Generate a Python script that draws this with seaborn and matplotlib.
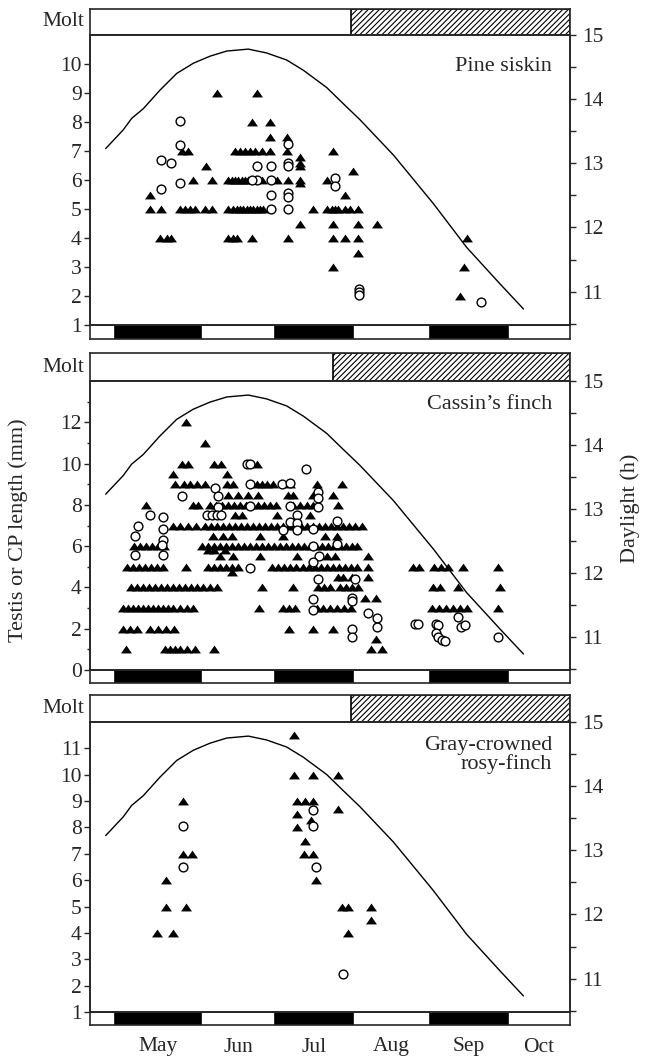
import matplotlib
matplotlib.use("Agg")
import matplotlib.pyplot as plt
import seaborn as sns
import pandas as pd
from matplotlib.ticker import FixedLocator, NullFormatter

sns.set_style("ticks")
plt.rcParams["font.family"] = ["Liberation Serif", "DejaVu Serif"]
plt.rcParams["hatch.linewidth"] = 0.8

# ---------------- data (x = day of year) ----------------
month_names = ["May", "Jun", "Jul", "Aug", "Sep", "Oct"]
month_edges = [121, 154.5, 183.3, 213.6, 243.6, 274, 298]
x_range = [111.3, 298]

daylight_day = [117.4, 124.2, 127.5, 132, 138.5, 145, 151.5, 158, 164.5, 172.9, 180,
                187.8, 194.3, 203.4, 209.8, 216.3, 229.3, 244.9, 257.8, 270.8, 279.9]
daylight_hours = [13.23, 13.52, 13.70, 13.85, 14.14, 14.40, 14.56, 14.67, 14.75, 14.78, 14.72,
                  14.61, 14.45, 14.18, 13.93, 13.68, 13.13, 12.37, 11.69, 11.12, 10.73]

# Pine siskin
ps_tri_mm = [9, 8, 7.5, 7, 6.8, 6.6, 6.5, 6.3, 6, 5.9, 5.5, 5, 4.5, 4, 3.5, 3, 2]
ps_tri_days = [
    [160.6, 176.1],
    [174.2, 181.3],
    [181.3, 187.8],
    [146.9, 149.5, 167.7, 169.6, 171.6, 173.5, 175.5, 178.1, 181.3, 187.8, 205.9],
    [193], [193], [156.4, 193], [213.7],
    [151.5, 158.6, 165.1, 166.4, 167.7, 169, 170.3, 171.6, 172.9, 178.1, 183.9, 188.4, 193, 203.5],
    [193],
    [134.6, 210.5],
    [134.6, 138.8, 146.3, 148.2, 150.2, 152.1, 156, 158.6, 165.1, 167, 168.3, 169.6, 170.9,
     172.2, 173.5, 174.8, 176.1, 177.4, 178.7, 198.2, 203.6, 205.3, 206.6, 207.9, 210.5, 212.4, 215.6],
    [193, 205.9, 215.6, 222.8],
    [138.5, 141.1, 143, 165.1, 167, 168.3, 174.2, 188.4, 205.9, 210.5, 215.6, 257.8],
    [215.6],
    [205.9, 256.8],
    [255.2],
]
ps_circ_day = [146.5, 146.5, 146.5, 138.8, 138.8, 143, 176.3, 176.3, 174.2, 181.6, 181.6, 181.6,
               181.6, 188.4, 188.4, 188.4, 188.4, 188.4, 188.4, 206.6, 206.6, 216, 216, 216, 263.4]
ps_circ_mm = [8.05, 7.2, 5.9, 6.7, 5.7, 6.6, 6.5, 6.0, 6.0, 6.5, 6.0, 5.5,
              5.0, 7.25, 6.6, 6.5, 5.55, 5.4, 5.0, 6.08, 5.78, 2.25, 2.15, 2.05, 1.8]

# Cassin's finch
cf_tri_mm = [1, 1.5, 2, 3, 3.5, 4, 4.5, 4.75, 5, 5.5, 5.8, 6, 6.5, 7, 7.5, 8, 8.5, 9, 9.5, 10, 11, 12]
cf_tri_days = [
    [125.3, 140.5, 142.4, 144.4, 146.3, 149, 152.1, 159.5, 220.6, 224.9],
    [222.5],
    [124.1, 126.8, 129.6, 134.6, 137.7, 140.8, 144, 188.7, 198, 205.8],
    [124.1, 126.1, 128, 130, 131.9, 133.8, 135.8, 137.7, 139.7, 141.6, 143.6, 146.3, 149, 151.3,
     177, 186.4, 188.7, 191, 199.6, 202, 204.6, 207.4, 210.1, 212.8,
     244.3, 247, 249.7, 252.4, 255.1, 257.9, 270],
    [218.3, 222.5],
    [127.2, 129.6, 131.9, 134.2, 136.6, 138.9, 141.3, 143.6, 145.9, 148.3, 150.6, 152.9, 155.2,
     158, 160.7, 178.2, 190.2, 199.9, 202.2, 204.6, 208.4, 210.8, 213.1, 215.5,
     244.7, 247.4, 254.4, 270.8],
    [207.7, 209.7, 213.2, 219.4],
    [166.4],
    [125.7, 128, 130.3, 132.7, 135, 137.3, 139.7, 148.6, 157.2, 159.5, 161.8, 164.2, 166.5, 168.9,
     182.1, 184.4, 186.7, 189.1, 191.4, 194.1, 196.5, 198.8, 201.2, 203.5, 205.8, 208.1, 210.5,
     212.8, 215.1, 219.4, 236.9, 239.3, 245.1, 247.8, 250.5, 256.4, 270],
    [161.8, 166.9, 177.4, 191.8, 203.5, 206.6, 219.4],
    [157.2, 159.5, 163.8],
    [128.4, 130.8, 133.1, 135.4, 137.7, 140.1, 154.8, 157.2, 159.5, 161.8, 164.2, 166.5, 168.9,
     171.2, 173.5, 175.9, 178.2, 180.5, 182.9, 185.2, 187.5, 189.9, 192.2, 194.5, 196.9, 199.2,
     201.5, 203.9, 206.2, 208.5, 210.8, 213.2, 215.1],
    [159.1, 163, 166.5, 177.4, 186.4, 202.7, 207.4],
    [143.6, 146.3, 149.4, 152.5, 156, 158.3, 160.7, 163, 165.3, 167.7, 170, 172.3, 174.7, 177,
     179.4, 181.7, 184, 186.4, 188.7, 191, 193.4, 195.7, 198, 200.4, 202.7, 205, 207.4, 209.7,
     212, 214.4, 217.1],
    [167.7, 170.4, 184, 196.9],
    [133.1, 151.3, 153.2, 158, 160.3, 162.6, 165, 167.3, 169.6, 172, 174.3, 176.6, 179, 181.3,
     183.6, 190.2, 192.9, 195.6, 198, 207.7],
    [165, 168.8, 172.7, 176.6, 188.3, 190.2, 198, 205.8],
    [144.3, 147.8, 150.2, 152.9, 156, 164.6, 166.9, 176.2, 178.2, 180.1, 182.5, 189.1, 199.6, 209.3],
    [143.6, 164.6],
    [147, 149.4, 159.5, 162.2, 176.2],
    [156],
    [148.6],
]
cf_circ_day = [130, 128.8, 128.8, 134.6, 139.7, 139.7, 139.7, 139.3, 139.7, 147, 159.9, 161, 161,
               156.8, 158.7, 160.7, 162.2, 172.3, 173.5, 173.5, 173.5, 173.5, 186, 189.1, 189.1,
               186.4, 189.1, 191.8, 191.8, 191.8, 195.3, 198, 198, 200.4, 198, 200, 200, 200, 200,
               198, 198, 207.4, 207.4, 213.2, 213.2, 213.2, 213.2, 214.4, 219.4, 222.9, 222.9,
               237.7, 238.9, 245.9, 246.6, 245.9, 246.6, 248.2, 249.4, 254.4, 255.6, 257.2, 270]
cf_circ_mm = [7.0, 6.5, 5.55, 7.5, 7.4, 6.85, 6.3, 6.05, 5.55, 8.45, 8.8, 8.45, 7.9,
              7.5, 7.5, 7.5, 7.5, 10.0, 10.0, 9.0, 7.95, 4.95, 9.0, 9.05, 7.95,
              6.8, 7.15, 7.5, 7.1, 6.8, 9.75, 6.85, 6.0, 5.5, 5.25, 8.6, 8.35, 7.9, 4.4,
              3.45, 2.9, 7.2, 6.1, 3.5, 3.35, 2.0, 1.6, 4.4, 2.75, 2.5, 2.1,
              2.25, 2.25, 2.25, 2.2, 1.8, 1.6, 1.45, 1.4, 2.55, 2.1, 2.2, 1.6]

# Gray-crowned rosy-finch
gr_tri_day = [137.5, 143.7, 140.8, 148.6, 140.8, 147.3, 150.8, 147.6, 190.6, 190.6, 197.9, 207.9,
              191.7, 194.9, 198.1, 191.7, 197.1, 191.7, 194.9, 194.5, 198.1, 199.2, 207.9,
              209.2, 211.8, 220.5, 220.5, 211.5]
gr_tri_mm = [4, 4, 5, 5, 6, 7, 7, 9, 11.5, 10, 10, 10,
             9, 9, 9, 8.5, 8.3, 8, 7.5, 7, 7, 6, 8.7,
             5, 5, 5, 4.5, 4]
gr_circ_day = [147.6, 147.6, 198.1, 198.1, 199.2, 209.8]
gr_circ_mm = [8.05, 6.5, 8.65, 8.05, 6.5, 2.45]

molt_start = [212.8, 205.8, 212.8]
species = ["Pine siskin", "Cassin\u2019s finch", "Gray-crowned\nrosy-finch"]


def flatten(mm_rows, day_rows):
    xs, ys = [], []
    for m, ds in zip(mm_rows, day_rows):
        xs.extend(ds)
        ys.extend([m] * len(ds))
    return xs, ys


ps_tri_day, ps_tri_mm_flat = flatten(ps_tri_mm, ps_tri_days)
cf_tri_day, cf_tri_mm_flat = flatten(cf_tri_mm, cf_tri_days)

panels = [
    dict(tri=(ps_tri_day, ps_tri_mm_flat), circ=(ps_circ_day, ps_circ_mm),
         ylim=(1, 11), major=list(range(1, 11)), minor=[],
         rows=(9, 35, 325, 339), text_y=0.89),
    dict(tri=(cf_tri_day, cf_tri_mm_flat), circ=(cf_circ_day, cf_circ_mm),
         ylim=(0, 14), major=list(range(0, 13, 2)), minor=list(range(1, 14, 2)),
         rows=(353, 381, 670, 683), text_y=0.917),
    dict(tri=(gr_tri_day, gr_tri_mm), circ=(gr_circ_day, gr_circ_mm),
         ylim=(1, 12), major=list(range(1, 12)), minor=[],
         rows=(695, 722, 1012, 1025), text_y=0.885),
]

W, H = 647, 1060
fig = plt.figure(figsize=(W / 100, H / 100), dpi=100)
L, R = 90, 570

tri_marker = [(-1, -0.72), (1, -0.72), (0, 0.72)]
FS = 15.5
LW = 1.2


def frac_rect(top, bottom):
    return [L / W, 1 - bottom / H, (R - L) / W, (bottom - top) / H]


for i, p in enumerate(panels):
    t_m, t_main, b_main, b_bar = p["rows"]
    # molt bar
    axm = fig.add_axes(frac_rect(t_m, t_main))
    axm.set_xlim(*x_range)
    axm.set_ylim(0, 1)
    axm.axvspan(molt_start[i], x_range[1], facecolor="white", edgecolor="black",
                hatch="//////", linewidth=LW)
    axm.set_xticks([])
    axm.set_yticks([])
    for s in axm.spines.values():
        s.set_linewidth(LW)
    axm.text(-0.012, 0.5, "Molt", transform=axm.transAxes, ha="right", va="center", fontsize=FS)

    # month bar
    axb = fig.add_axes(frac_rect(b_main, b_bar))
    axb.set_xlim(*x_range)
    axb.set_ylim(0, 1)
    for k in range(0, len(month_edges) - 1, 2):
        axb.axvspan(month_edges[k], month_edges[k + 1], facecolor="black", edgecolor="black",
                    linewidth=LW)
    axb.set_yticks([])
    mids = [(month_edges[k] + month_edges[k + 1]) / 2 for k in range(len(month_edges) - 1)]
    axb.set_xticks(mids)
    if i == len(panels) - 1:
        axb.set_xticklabels(month_names, fontsize=FS)
        axb.tick_params(axis="x", length=0, pad=9)
    else:
        axb.set_xticklabels([])
        axb.tick_params(axis="x", length=0)
    for s in axb.spines.values():
        s.set_linewidth(LW)

    # main scatter
    ax = fig.add_axes(frac_rect(t_main, b_main))
    tx, ty = p["tri"]
    cx, cy = p["circ"]
    sns.scatterplot(x=tx, y=ty, ax=ax, marker=tri_marker, color="black", s=62,
                    linewidth=0, legend=False, zorder=3)
    sns.scatterplot(x=cx, y=cy, ax=ax, marker="o", facecolor="white", edgecolor="black",
                    s=40, linewidth=1.0, legend=False, zorder=4)
    ax.set_xlim(*x_range)
    ax.set_ylim(*p["ylim"])
    ax.set_xticks([])
    ax.yaxis.set_major_locator(FixedLocator(p["major"]))
    ax.yaxis.set_minor_locator(FixedLocator(p["minor"]))
    ax.tick_params(axis="y", which="major", direction="out", length=4.5, width=1.0,
                   labelsize=FS, pad=1.5, right=False)
    ax.tick_params(axis="y", which="minor", direction="out", length=2.5, width=1.0, right=False)
    ax.set_xlabel("")
    ax.set_ylabel("")
    for s in ax.spines.values():
        s.set_visible(True)
        s.set_linewidth(LW)
    ax.text(0.9625, p["text_y"], species[i], transform=ax.transAxes, ha="right",
            va="center", fontsize=FS + 0.5, multialignment="right", linespacing=0.95)

    # daylight
    ax2 = ax.twinx()
    dl = pd.DataFrame({"day": daylight_day, "hours": daylight_hours})
    sns.lineplot(data=dl, x="day", y="hours", ax=ax2, color="black", linewidth=1.0,
                 estimator=None, sort=False)
    ax2.set_xlim(*x_range)
    ax2.set_ylim(10.48, 15)
    ax2.yaxis.set_major_locator(FixedLocator([11, 12, 13, 14, 15]))
    ax2.yaxis.set_minor_locator(FixedLocator([10.5, 11.5, 12.5, 13.5, 14.5]))
    ax2.yaxis.set_minor_formatter(NullFormatter())
    ax2.tick_params(axis="y", which="both", direction="out", length=4.5, width=1.0,
                    labelsize=FS, pad=4)
    ax2.set_xlabel("")
    ax2.set_ylabel("")
    for s in ax2.spines.values():
        s.set_linewidth(LW)

fig.text(0.028, 0.5, "Testis or CP length (mm)", rotation=90, ha="center", va="center",
         fontsize=FS + 0.5)
fig.text(0.974, 0.52, "Daylight (h)", rotation=90, ha="center", va="center", fontsize=FS + 0.5)

fig.savefig("out.png", dpi=100)
